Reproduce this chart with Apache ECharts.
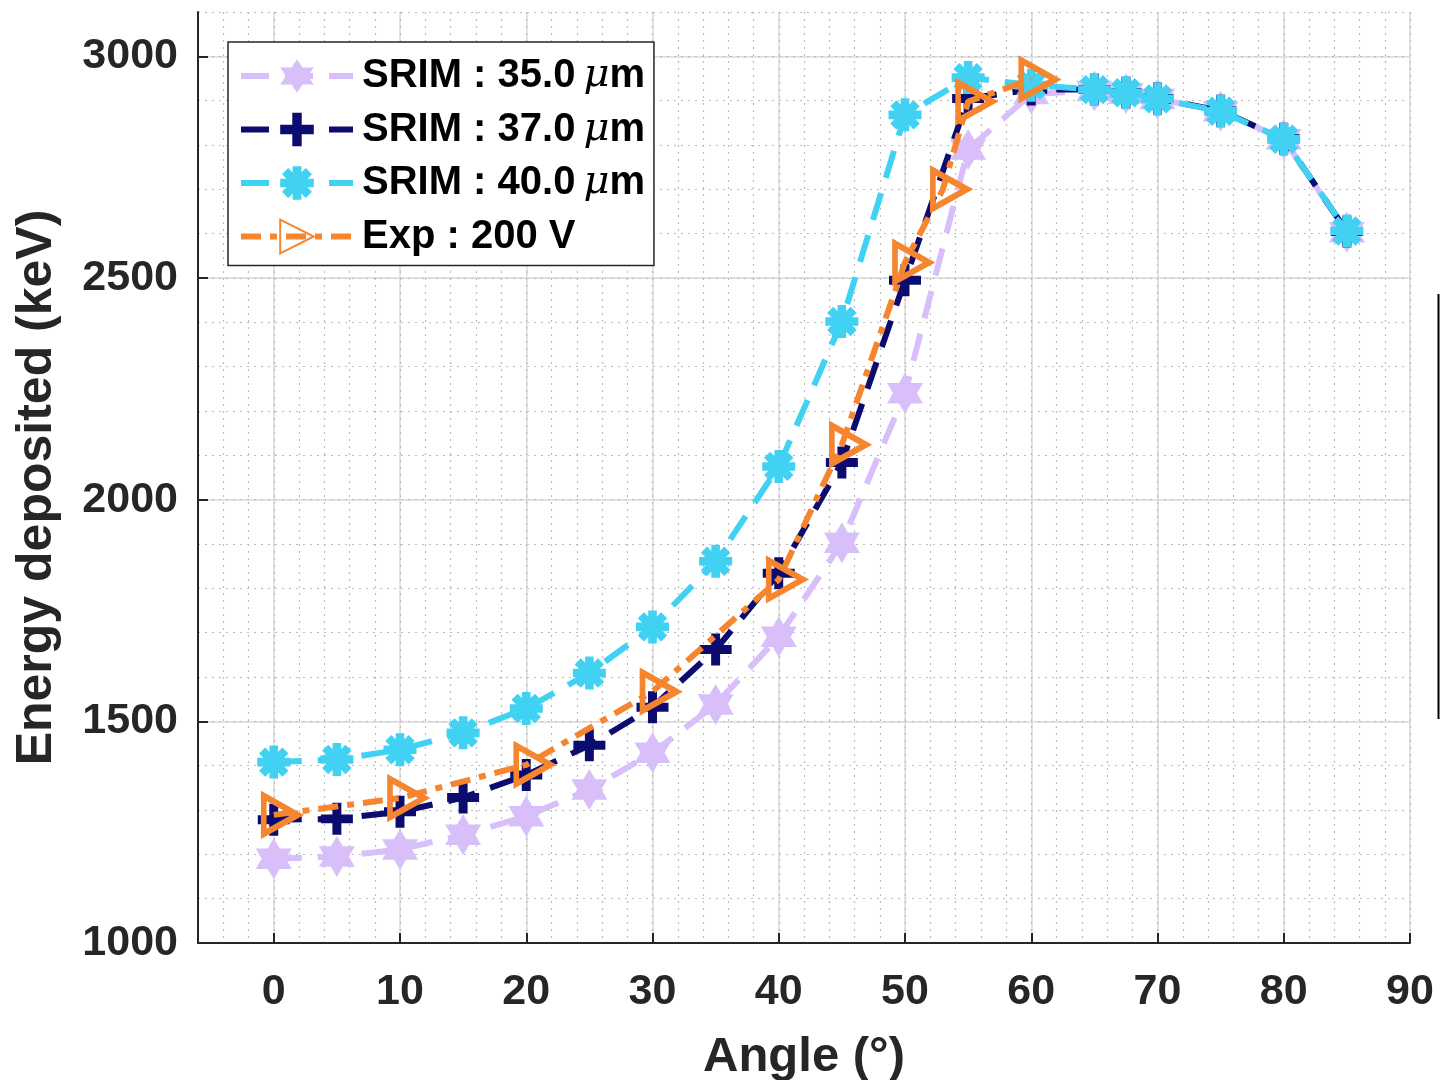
<!DOCTYPE html>
<html>
<head>
<meta charset="utf-8">
<script src="https://cdn.jsdelivr.net/npm/echarts@6/dist/echarts.min.js"></script>
<style>
html,body{margin:0;padding:0;background:#fff;}
#chart{width:1440px;height:1080px;}
</style>
</head>
<body>
<div id="chart"></div>
<script>
// ---- data ----
const srimAngles = [0, 5, 10, 15, 20, 25, 30, 35, 40, 45, 50, 55, 60, 65, 67.5, 70, 75, 80, 85];
const srim35 = [1190, 1195, 1211, 1244, 1286, 1346, 1429, 1538, 1691, 1903, 2240, 2790, 2915, 2922, 2916, 2904, 2876, 2813, 2603];
const srim37 = [1278, 1280, 1296, 1328, 1379, 1446, 1532, 1662, 1834, 2084, 2495, 2905, 2925, 2925, 2918, 2905, 2877, 2814, 2605];
const srim40 = [1408, 1414, 1436, 1474, 1529, 1609, 1713, 1861, 2075, 2402, 2868, 2952, 2935, 2925, 2918, 2904, 2876, 2813, 2606];
const expAngles = [0, 10, 20, 30, 40, 45, 50, 53, 55, 60];
const exp200 = [1289, 1327, 1402, 1567, 1820, 2124, 2535, 2700, 2898, 2948];
const seriesNames = ['SRIM : 35.0μm', 'SRIM : 37.0μm', 'SRIM : 40.0μm', 'Exp : 200 V'];
const xTickValues = [0, 10, 20, 30, 40, 50, 60, 70, 80, 90];
const yTickValues = [1000, 1500, 2000, 2500, 3000];
const xTitle = 'Angle (°)';
const yTitle = 'Energy deposited (keV)';

// ---- styling ----
const FONT = '"Liberation Sans", Arial, Helvetica, sans-serif';
const C35 = '#d8bff9', C37 = '#0b0b70', C40 = '#41d1f2', CEXP = '#f5852f';

function pairs(xs, ys) { return xs.map((x, i) => [x, ys[i]]); }

const hexagram = 'path://M0,-1 L0.866,0.5 L-0.866,0.5 Z M0,1 L-0.866,-0.5 L0.866,-0.5 Z';
const plus = 'path://M-1,-0.28 L1,-0.28 L1,0.28 L-1,0.28 Z M-0.28,-1 L0.28,-1 L0.28,1 L-0.28,1 Z';
function asteriskPath() {
  let d = '';
  const hw = 0.26, hl = 1;
  [0, 45, 90, 135].forEach(a => {
    const r = a * Math.PI / 180, c = Math.cos(r), s = Math.sin(r);
    const pts = [[-hl, -hw], [hl, -hw], [hl, hw], [-hl, hw]].map(([x, y]) => [x * c - y * s, x * s + y * c]);
    d += 'M' + pts.map(p => p[0].toFixed(4) + ',' + p[1].toFixed(4)).join(' L') + ' Z ';
  });
  return 'path://' + d;
}
const asterisk = asteriskPath();
const triRight = 'path://M-0.9,-1 L1,0 L-0.9,1 Z';

const axisText = { fontFamily: FONT, fontWeight: 'bold', fontSize: 43, color: '#262626', formatter: v => String(v) };

const option = {
  animation: false,
  backgroundColor: '#ffffff',
  grid: { left: 198, right: 30, top: 12, bottom: 137, containLabel: false, outerBoundsMode: 'none' },
  xAxis: [
    {
      type: 'value', min: -6, max: 90, interval: 2,
      axisLine: { show: true, onZero: false, lineStyle: { color: '#262626', width: 2 } },
      axisTick: { show: true, inside: true, length: 10, customValues: xTickValues, lineStyle: { color: '#262626', width: 2 } },
      axisLabel: Object.assign({ customValues: xTickValues, margin: 28 }, axisText),
      splitLine: { show: true, lineStyle: { color: '#dadada', width: 1.5 } },
      name: xTitle, nameLocation: 'middle', nameGap: 90,
      nameTextStyle: { fontFamily: FONT, fontWeight: 'bold', fontSize: 49, color: '#262626' }
    },
    {
      type: 'value', min: -6, max: 90, interval: 2, position: 'bottom',
      axisLine: { show: false }, axisTick: { show: false }, axisLabel: { show: false },
      splitLine: { show: true, lineStyle: { color: '#bcbcbc', width: 1.2, type: [2, 5] } }
    }
  ],
  yAxis: [
    {
      type: 'value', min: 1000, max: 3100, interval: 500,
      axisLine: { show: true, onZero: false, lineStyle: { color: '#262626', width: 2 } },
      axisTick: { show: true, inside: true, length: 10, customValues: yTickValues, lineStyle: { color: '#262626', width: 2 } },
      axisLabel: Object.assign({ customValues: yTickValues, margin: 20 }, axisText),
      splitLine: { show: true, lineStyle: { color: '#dadada', width: 1.5 } },
      name: yTitle, nameLocation: 'middle', nameGap: 136,
      nameTextStyle: { fontFamily: FONT, fontWeight: 'bold', fontSize: 50, color: '#262626', padding: [0, 20, 0, 0] }
    },
    {
      type: 'value', min: 1000, max: 3100, interval: 100, position: 'left',
      axisLine: { show: false }, axisTick: { show: false }, axisLabel: { show: false },
      splitLine: { show: true, lineStyle: { color: '#bcbcbc', width: 1.2, type: [2, 5] } }
    }
  ],
  legend: {
    orient: 'vertical', left: 228, top: 42,
    itemWidth: 112, itemHeight: 42, itemGap: 13.5,
    padding: [14, 9, 9, 10],
    borderColor: '#262626', borderWidth: 1.5, backgroundColor: '#ffffff',
    lineStyle: { width: 6 },
    data: seriesNames,
    formatter: function (name) {
      if (name.indexOf('μm') >= 0) {
        return '{sp|}{t|' + name.replace('μm', '') + '}{mu|\u2009μ}{t|m}';
      }
      return '{sp|}{t|' + name + '}';
    },
    textStyle: {
      fontFamily: FONT, fontWeight: 'bold', fontSize: 40, color: '#000',
      rich: {
        sp: { width: 4, fontSize: 40, lineHeight: 44 },
        t: { fontFamily: FONT, fontWeight: 'bold', fontSize: 40, color: '#000', lineHeight: 44 },
        mu: { fontFamily: '"DejaVu Serif", "Liberation Serif", serif', fontStyle: 'italic', fontWeight: 'normal', fontSize: 40, color: '#000', lineHeight: 44 }
      }
    }
  },
  graphic: [
    { type: 'line', shape: { x1: 1438.5, y1: 294, x2: 1438.5, y2: 719 }, style: { stroke: '#000', lineWidth: 2 }, z: 10 }
  ],
  series: [
    {
      name: seriesNames[0], type: 'line', data: pairs(srimAngles, srim35),
      symbol: hexagram, symbolSize: [36, 41],
      itemStyle: { color: C35, borderWidth: 0 },
      lineStyle: { color: C35, width: 6, type: [28, 16] },
      z: 2
    },
    {
      name: seriesNames[1], type: 'line', data: pairs(srimAngles, srim37),
      symbol: plus, symbolSize: [32, 32],
      itemStyle: { color: C37, borderWidth: 0 },
      lineStyle: { color: C37, width: 6, type: [28, 16] },
      z: 3
    },
    {
      name: seriesNames[2], type: 'line', data: pairs(srimAngles, srim40),
      symbol: asterisk, symbolSize: [33, 33],
      itemStyle: { color: C40, borderWidth: 0 },
      lineStyle: { color: C40, width: 6, type: [28, 16] },
      z: 4
    },
    {
      name: seriesNames[3], type: 'line', data: pairs(expAngles, exp200),
      symbol: triRight, symbolSize: [34, 38], symbolOffset: [7, 0],
      itemStyle: { color: 'rgba(255,255,255,0)', borderColor: CEXP, borderWidth: 6 },
      lineStyle: { color: CEXP, width: 6, type: [20, 9, 7, 9] },
      z: 5
    }
  ]
};

const chart = echarts.init(document.getElementById('chart'), null, { renderer: 'canvas' });
chart.setOption(option);
</script>
</body>
</html>
